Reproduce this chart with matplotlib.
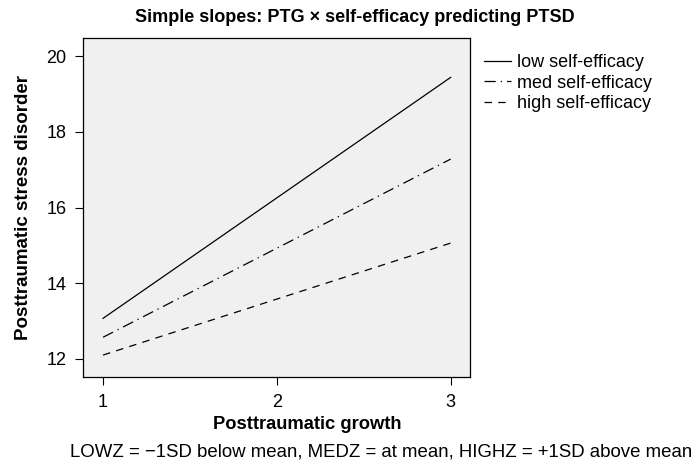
import matplotlib
matplotlib.use("Agg")
import matplotlib.pyplot as plt

plt.rcParams['font.family'] = ['Liberation Sans', 'DejaVu Sans']

growth = [1, 3]
low_se = [13.07, 19.44]
med_se = [12.57, 17.28]
high_se = [12.10, 15.06]
labels = ["low self-efficacy", "med self-efficacy", "high self-efficacy"]
xticks = [1, 2, 3]
yticks = [12, 14, 16, 18, 20]

fig = plt.figure(figsize=(6.96, 4.67), dpi=100)
ax = fig.add_axes([0.1193, 0.1927, 0.5557, 0.7259])
ax.set_facecolor('#f0f0f0')

ax.plot(growth, low_se, color='black', lw=0.9, linestyle='-', label=labels[0])
ax.plot(growth, med_se, color='black', lw=0.9, linestyle=(0, (9, 4, 1, 4)), label=labels[1])
ax.plot(growth, high_se, color='black', lw=0.9, linestyle=(0, (6, 5)), label=labels[2])

ax.set_xlim(0.885, 3.11)
ax.set_ylim(11.52, 20.48)
ax.set_xticks(xticks)
ax.set_yticks(yticks)
ax.tick_params(labelsize=13, length=6, width=0.8, pad=6)
for s in ax.spines.values():
    s.set_linewidth(0.9)

ax.set_ylabel("Posttraumatic stress disorder", fontsize=13.5, fontweight='bold', labelpad=10)
fig.text(0.441, 0.091, "Posttraumatic growth", ha='center', va='center',
         fontsize=13.2, fontweight='bold')
fig.text(0.510, 0.962, "Simple slopes: PTG \u00d7 self-efficacy predicting PTSD",
         ha='center', va='center', fontsize=13, fontweight='bold')
fig.text(0.548, 0.032, "LOWZ = \u22121SD below mean, MEDZ = at mean, HIGHZ = +1SD above mean",
         ha='center', va='center', fontsize=13.4)

leg = ax.legend(loc='upper left', bbox_to_anchor=(1.005, 0.99), frameon=False,
                fontsize=13, handlelength=1.5, handletextpad=0.3, labelspacing=0.2,
                borderaxespad=0.3)

fig.savefig("out.png", dpi=100)
